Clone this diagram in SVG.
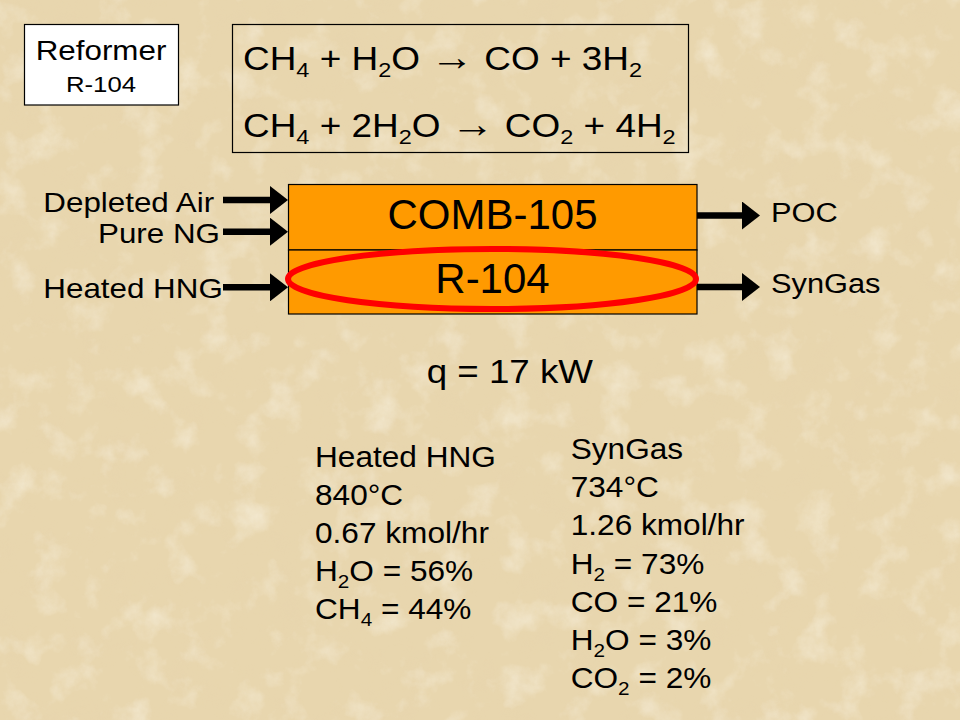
<svg xmlns="http://www.w3.org/2000/svg" width="960" height="720" viewBox="0 0 960 720">
<defs>
<filter id="paper" x="0" y="0" width="100%" height="100%">
<feTurbulence type="fractalNoise" baseFrequency="0.03" numOctaves="5" seed="7" result="n"/>
<feColorMatrix in="n" type="matrix" values="0 0 0 0 0.80  0 0 0 0 0.66  0 0 0 0 0.42  2.2 0 0 0 -1.05" result="dark"/>
<feColorMatrix in="n" type="matrix" values="0 0 0 0 0.98  0 0 0 0 0.95  0 0 0 0 0.86  0 -2.2 0 0 1.05" result="light"/>
<feMerge><feMergeNode in="dark"/><feMergeNode in="light"/></feMerge>
</filter>
<marker id="ah" viewBox="0 0 18 28" refX="2" refY="14" markerWidth="18" markerHeight="28" markerUnits="userSpaceOnUse" orient="auto">
<path d="M0,0 L18,14 L0,28 Z" fill="#000"/>
</marker>
</defs>
<style>
text{font-family:"Liberation Sans",Arial,"DejaVu Sans",sans-serif;fill:#000}
.lbl{font-size:28px}
.eq{font-size:33px}
.eqs{font-size:21px}
.arr{font-size:39px}
.col{font-size:29px}
.cols{font-size:19px}
.big{font-size:42px;text-anchor:middle}
.conn{stroke:#000;stroke-width:6.5;fill:none;marker-end:url(#ah)}
</style>
<rect width="960" height="720" fill="#E8D6AE"/>
<rect width="960" height="720" filter="url(#paper)" opacity="0.5"/>

<g id="reformer-label">
<rect x="24.5" y="24.5" width="154" height="80.5" fill="#fff" stroke="#000" stroke-width="1.2"/>
<text class="lbl" text-anchor="middle" transform="translate(101 60) scale(1.12 1)">Reformer</text>
<text text-anchor="middle" style="font-size:23px" transform="translate(101 91.7) scale(1.12 1)">R-104</text>
</g>

<g id="equations">
<rect x="232.5" y="24.5" width="456" height="128" fill="none" stroke="#000" stroke-width="1.2"/>
<text class="eq" transform="translate(243 70) scale(1.12 1)">CH<tspan class="eqs" dy="7">4</tspan><tspan dy="-7"> + H</tspan><tspan class="eqs" dy="7">2</tspan><tspan dy="-7">O </tspan><tspan class="arr">→</tspan><tspan> CO + 3H</tspan><tspan class="eqs" dy="7">2</tspan></text>
<text class="eq" transform="translate(243 137) scale(1.12 1)">CH<tspan class="eqs" dy="7">4</tspan><tspan dy="-7"> + 2H</tspan><tspan class="eqs" dy="7">2</tspan><tspan dy="-7">O </tspan><tspan class="arr">→</tspan><tspan> CO</tspan><tspan class="eqs" dy="7">2</tspan><tspan dy="-7"> + 4H</tspan><tspan class="eqs" dy="7">2</tspan></text>
</g>

<g id="comb-105">
<rect x="288.5" y="184.5" width="408.5" height="65.5" fill="#FF9A00" stroke="#000" stroke-width="1.2"/>
<text class="big" x="492.5" y="229.3">COMB-105</text>
</g>

<g id="r-104">
<rect x="288.5" y="250" width="408.5" height="64" fill="#FF9A00" stroke="#000" stroke-width="1.2"/>
<text class="big" x="492.5" y="293.3">R-104</text>
</g>

<g id="connectors">
<line class="conn" x1="223" y1="200" x2="272" y2="200"/>
<line class="conn" x1="223" y1="231.7" x2="272" y2="231.7"/>
<line class="conn" x1="223" y1="287.3" x2="272" y2="287.3"/>
<line class="conn" x1="697" y1="215.5" x2="744" y2="215.5"/>
<line class="conn" x1="697" y1="287" x2="744" y2="287"/>
</g>

<g id="highlight">
<ellipse cx="492" cy="279" rx="204" ry="30" fill="none" stroke="#FF0000" stroke-width="6"/>
</g>

<g id="stream-labels">
<text class="lbl" transform="translate(43.3 211.7) scale(1.12 1)">Depleted Air</text>
<text class="lbl" text-anchor="end" transform="translate(220 242.7) scale(1.12 1)">Pure NG</text>
<text class="lbl" transform="translate(43.3 298.3) scale(1.12 1)">Heated HNG</text>
<text class="lbl" transform="translate(771 222.3) scale(1.1 1)">POC</text>
<text class="lbl" transform="translate(771 293.3) scale(1.1 1)">SynGas</text>
</g>

<g id="duty">
<text style="font-size:34px" transform="translate(426.7 383) scale(1.08 1)">q = 17 kW</text>
</g>

<g id="heated-hng-data">
<text class="col" transform="translate(315 467) scale(1.09 1)">Heated HNG</text>
<text class="col" transform="translate(315 505) scale(1.09 1)">840°C</text>
<text class="col" transform="translate(315 543) scale(1.09 1)">0.67 kmol/hr</text>
<text class="col" transform="translate(315 581) scale(1.09 1)">H<tspan class="cols" dy="7">2</tspan><tspan dy="-7">O = 56%</tspan></text>
<text class="col" transform="translate(315 619) scale(1.09 1)">CH<tspan class="cols" dy="7">4</tspan><tspan dy="-7"> = 44%</tspan></text>
</g>

<g id="syngas-data">
<text class="col" transform="translate(570.7 459) scale(1.09 1)">SynGas</text>
<text class="col" transform="translate(570.7 497.2) scale(1.09 1)">734°C</text>
<text class="col" transform="translate(570.7 535.4) scale(1.09 1)">1.26 kmol/hr</text>
<text class="col" transform="translate(570.7 573.6) scale(1.09 1)">H<tspan class="cols" dy="7">2</tspan><tspan dy="-7"> = 73%</tspan></text>
<text class="col" transform="translate(570.7 611.8) scale(1.09 1)">CO = 21%</text>
<text class="col" transform="translate(570.7 650) scale(1.09 1)">H<tspan class="cols" dy="7">2</tspan><tspan dy="-7">O = 3%</tspan></text>
<text class="col" transform="translate(570.7 688.2) scale(1.09 1)">CO<tspan class="cols" dy="7">2</tspan><tspan dy="-7"> = 2%</tspan></text>
</g>
</svg>
